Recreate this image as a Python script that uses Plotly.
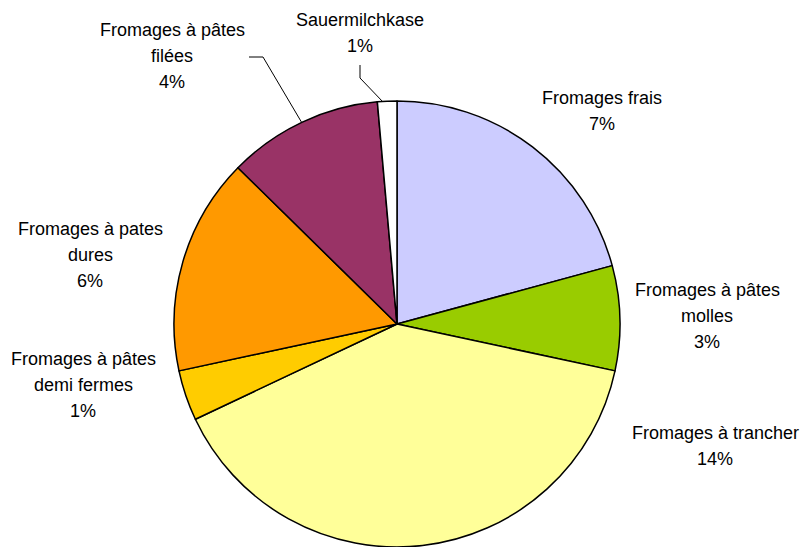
import plotly.graph_objects as go

# slices, clockwise from 12 o'clock
categories = [
    "Fromages frais",
    "Fromages à pâtes<br>molles",
    "Fromages à trancher",
    "Fromages à pâtes<br>demi fermes",
    "Fromages à pates<br>dures",
    "Fromages à pâtes<br>filées",
    "Sauermilchkase",
]
values = [7.4, 2.7, 14.1, 1.3, 5.6, 4.0, 0.5]
pct_labels = ["7%", "3%", "14%", "1%", "6%", "4%", "1%"]
colors = ["#CCCCFF", "#99CC00", "#FFFF99", "#FFCC00", "#FF9900", "#993366", "#FFFFFF"]

W, H = 803, 547
LINE_H = 26

# label centres in pixels (layout only)
label_pos = [(602, 111), (707, 316), (715, 446), (83, 385), (90, 255), (172, 56), (360, 33)]

fig = go.Figure(
    go.Pie(
        values=values,
        labels=[c.replace("<br>", " ") for c in categories],
        sort=False,
        direction="clockwise",
        rotation=0,
        textinfo="none",
        hoverinfo="label+value",
        marker=dict(colors=colors, line=dict(color="black", width=1.5)),
        domain=dict(x=[173 / W, 621 / W], y=[0, 446 / H]),
        showlegend=False,
    )
)

annotations = []
for cat, pct, (px, py) in zip(categories, pct_labels, label_pos):
    lines = cat.split("<br>") + [pct]
    n = len(lines)
    for i, line in enumerate(lines):
        ly = py + (i - (n - 1) / 2) * LINE_H
        annotations.append(dict(
            text=line,
            x=px / W, y=1 - ly / H,
            xref="paper", yref="paper",
            xanchor="center", yanchor="middle",
            showarrow=False,
            font=dict(family="Liberation Sans, Arial", size=18, color="black"),
        ))

# leader lines for the small top slices
leaders = [
    [(249, 57), (263, 57), (302, 123)],
    [(360, 65), (360, 78), (383, 102)],
]
shapes = []
for pts in leaders:
    path = "M " + " L ".join(f"{x / W},{1 - y / H}" for x, y in pts)
    shapes.append(dict(type="path", xref="paper", yref="paper", path=path,
                       line=dict(color="black", width=1)))

fig.update_layout(
    width=W,
    height=H,
    margin=dict(l=0, r=0, t=0, b=0),
    paper_bgcolor="white",
    plot_bgcolor="white",
    annotations=annotations,
    shapes=shapes,
)

fig.write_html("out.html", config={"displayModeBar": False},
               post_script="document.body.style.margin='0px';")
